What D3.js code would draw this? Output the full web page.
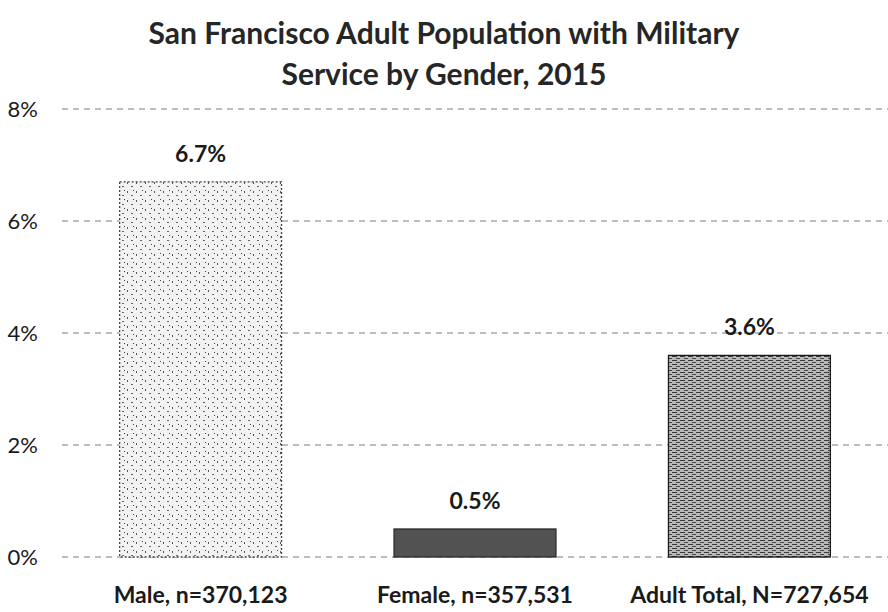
<!DOCTYPE html>
<html>
<head>
<meta charset="utf-8">
<script src="https://cdn.jsdelivr.net/npm/d3@7"></script>
<style>
  body { margin: 0; background: #fff; }
  text { font-family: Lato, "Open Sans", sans-serif; fill: #1a1a1a; }
</style>
</head>
<body>
<div id="chart"></div>
<script>
var width  = 888;
var height = 612;

var categories = ["Male, n=370,123", "Female, n=357,531", "Adult Total, N=727,654"];
var values     = [6.7, 0.5, 3.6];
var valueLabels = ["6.7%", "0.5%", "3.6%"];
var ticks      = [0, 2, 4, 6, 8];
var titleLines = ["San Francisco Adult Population with Military", "Service by Gender, 2015"];

var fills   = ["url(#speckle)", "#525252", "url(#weave)"];
var strokes = ["#444", "#2a2a2a", "#1a1a1a"];

var svg = d3.select("#chart").append("svg")
    .attr("width", width)
    .attr("height", height);

// textures roughly like the scanned bars
var defs = svg.append("defs");
var sp = defs.append("pattern")
    .attr("id", "speckle")
    .attr("width", 9).attr("height", 9)
    .attr("patternUnits", "userSpaceOnUse");
sp.append("rect").attr("width", 9).attr("height", 9).attr("fill", "#f2f2f2");
sp.append("rect").attr("x", 1).attr("y", 2).attr("width", 1).attr("height", 2).attr("fill", "#555");
sp.append("rect").attr("x", 5).attr("y", 6).attr("width", 2).attr("height", 1).attr("fill", "#666");
sp.append("rect").attr("x", 7).attr("y", 1).attr("width", 1).attr("height", 1).attr("fill", "#444");

var wv = defs.append("pattern")
    .attr("id", "weave")
    .attr("width", 8).attr("height", 4)
    .attr("patternUnits", "userSpaceOnUse");
wv.append("rect").attr("width", 8).attr("height", 4).attr("fill", "#b8b8b8");
wv.append("rect").attr("x", 0).attr("y", 0).attr("width", 5).attr("height", 1).attr("fill", "#3a3a3a");
wv.append("rect").attr("x", 4).attr("y", 2).attr("width", 4).attr("height", 1).attr("fill", "#4a4a4a");

var y = d3.scaleLinear()
    .domain([0, 8])
    .range([557, 109]);

var x = d3.scaleBand()
    .domain(categories)
    .range([62, 888])
    .paddingInner(0.41)
    .paddingOuter(0.21);

// title
svg.append("g").selectAll("text")
    .data(titleLines)
  .enter().append("text")
    .attr("x", 444)
    .attr("y", (d, i) => 44 + i * 41)
    .attr("text-anchor", "middle")
    .attr("font-size", 30)
    .attr("font-weight", "bold")
    .style("fill", "#262626")
    .text(d => d);

// gridlines
var grid = svg.append("g").attr("class", "grid");
grid.selectAll("line")
    .data(ticks)
  .enter().append("line")
    .attr("x1", 62)
    .attr("x2", 888)
    .attr("y1", d => y(d))
    .attr("y2", d => y(d))
    .attr("stroke", "#7a7a7a")
    .attr("stroke-width", 1)
    .attr("stroke-dasharray", "6,5");

// y axis labels
var yAxis = d3.axisLeft(y).tickValues(ticks).tickFormat(d => d + "%").tickSize(0);
svg.append("g")
    .attr("transform", "translate(38,0)")
    .call(yAxis)
    .call(g => g.select(".domain").remove())
    .call(g => g.selectAll("text")
        .attr("x", 0)
        .attr("dy", "0.36em")
        .attr("font-size", 22)
        .attr("font-family", "Lato, sans-serif")
        .style("fill", "#1a1a1a"));

// bars
svg.append("g").selectAll("rect")
    .data(values)
  .enter().append("rect")
    .attr("x", (d, i) => x(categories[i]))
    .attr("y", d => y(d))
    .attr("width", x.bandwidth())
    .attr("height", d => y(0) - y(d))
    .attr("fill", (d, i) => fills[i])
    .attr("stroke", (d, i) => strokes[i])
    .attr("stroke-width", 1.3)
    .attr("stroke-dasharray", (d, i) => i === 0 ? "2,2" : null);

// value labels
svg.append("g").selectAll("text")
    .data(values)
  .enter().append("text")
    .attr("x", (d, i) => x(categories[i]) + x.bandwidth() / 2)
    .attr("y", d => y(d) - 20)
    .attr("text-anchor", "middle")
    .attr("font-size", 23)
    .attr("font-weight", "bold")
    .text((d, i) => valueLabels[i]);

// category labels, pulled in if they run past the right edge
var xAxis = d3.axisBottom(x).tickSize(0);
svg.append("g")
    .attr("transform", "translate(0,585)")
    .call(xAxis)
    .call(g => g.select(".domain").remove())
    .call(g => g.selectAll("text")
        .attr("y", 0)
        .attr("dy", "0.8em")
        .attr("font-size", 23)
        .attr("font-weight", "bold")
        .attr("font-family", "Lato, sans-serif")
        .style("fill", "#1a1a1a"))
    .call(g => g.selectAll(".tick").each(function(d) {
        var t = d3.select(this).select("text");
        var half = t.node().getComputedTextLength() / 2;
        var cx = x(d) + x.bandwidth() / 2;
        var right = 884;
        if (cx + half > right) t.attr("dx", right - half - cx);
    }));
</script>
</body>
</html>
